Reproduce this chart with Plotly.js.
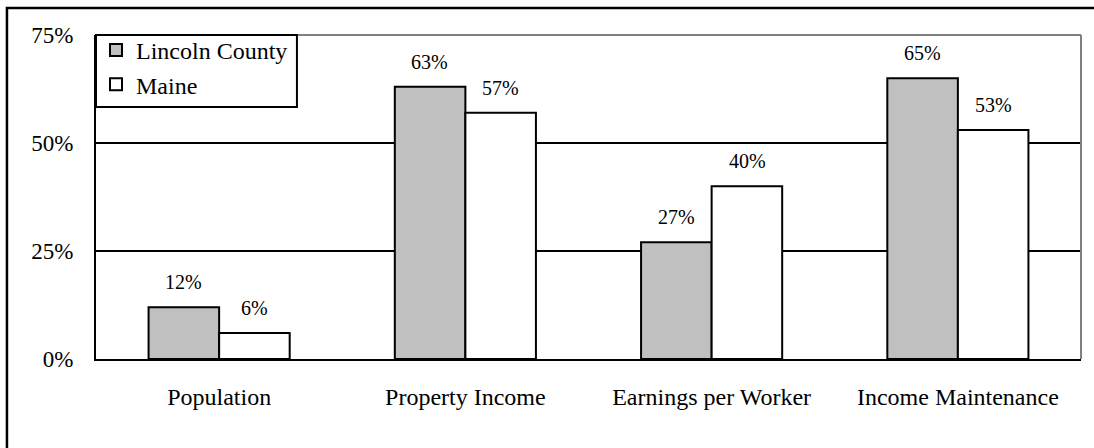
<!DOCTYPE html>
<html>
<head>
<meta charset="utf-8">
<script src="https://cdn.plot.ly/plotly-3.0.1.min.js"></script>
<style>html,body{margin:0;padding:0;background:#fff;}#chart{width:1094px;height:448px;}</style>
</head>
<body>
<div id="chart"></div>
<script>
const categories = ["Population", "Property Income", "Earnings per Worker", "Income Maintenance"];
const lincolnCounty = [12, 63, 27, 65];
const maine = [6, 57, 40, 53];
const seriesNames = ["Lincoln County", "Maine"];
const yTickVals = [0, 25, 50, 75];
const yTickText = ["0%", "25%", "50%", "75%"];

const FONT = "Liberation Serif";
const barLine = {color: "#000", width: 2};

const traces = [
  {type: "bar", name: seriesNames[0], x: categories, y: lincolnCounty,
   marker: {color: "#c0c0c0", line: barLine}, hoverinfo: "skip"},
  {type: "bar", name: seriesNames[1], x: categories, y: maine,
   marker: {color: "#ffffff", line: barLine}, hoverinfo: "skip"}
];

// value labels above each bar, positioned via data coordinates
const annotations = [];
const series = [lincolnCounty, maine];
const shifts = [-35.5, 35.5];
series.forEach((vals, s) => {
  vals.forEach((v, i) => {
    annotations.push({
      x: categories[i], y: v, xref: "x", yref: "y",
      text: v + "%", showarrow: false, xshift: shifts[s], yshift: 12,
      yanchor: "bottom", xanchor: "center",
      font: {family: FONT, size: 20, color: "#000"}
    });
  });
});

const layout = {
  width: 1094, height: 448,
  margin: {l: 96, r: 13, t: 35, b: 89, pad: 0},
  paper_bgcolor: "#fff", plot_bgcolor: "#fff",
  barmode: "group", bargap: 0.427, bargroupgap: 0,
  font: {family: FONT, size: 22, color: "#000"},
  showlegend: true,
  legend: {x: 0, y: 1.0216, xanchor: "left", yanchor: "top", bgcolor: "rgba(0,0,0,0)",
           borderwidth: 0, font: {family: FONT, size: 24, color: "#000"},
           traceorder: "normal"},
  xaxis: {type: "category", showline: true, linecolor: "#000", linewidth: 2,
          showgrid: false, zeroline: false, ticks: "", ticklabelstandoff: 15,
          tickfont: {family: FONT, size: 24, color: "#000"}, fixedrange: true},
  yaxis: {range: [0, 75], tickvals: yTickVals, ticktext: yTickText,
          showline: true, linecolor: "#000", linewidth: 2,
          showgrid: true, gridcolor: "#000", gridwidth: 2, zeroline: false,
          ticks: "", ticklabelstandoff: 16,
          tickfont: {family: FONT, size: 23, color: "#000"}, fixedrange: true},
  annotations: annotations,
  shapes: [
    {type: "line", xref: "paper", yref: "paper", x0: 0, x1: 1, y0: 1, y1: 1,
     line: {color: "#808080", width: 2}, layer: "above"},
    {type: "line", xref: "paper", yref: "paper", x0: 1, x1: 1, y0: 0, y1: 1,
     line: {color: "#808080", width: 2}, layer: "above"},
    // legend frame
    {type: "rect", xref: "paper", yref: "paper", x0: 0, x1: 0.204, y0: 0.778, y1: 1,
     line: {color: "#000", width: 2}, fillcolor: "#fff", layer: "above"},
    // outer chart frame
    {type: "rect", xref: "paper", yref: "paper", x0: -0.0904, x1: 1.05, y0: -0.35, y1: 1.0833,
     line: {color: "#000", width: 2.5}, fillcolor: "rgba(0,0,0,0)", layer: "above"}
  ]
};

Plotly.newPlot("chart", traces, layout, {displayModeBar: false, staticPlot: true});
</script>
</body>
</html>
